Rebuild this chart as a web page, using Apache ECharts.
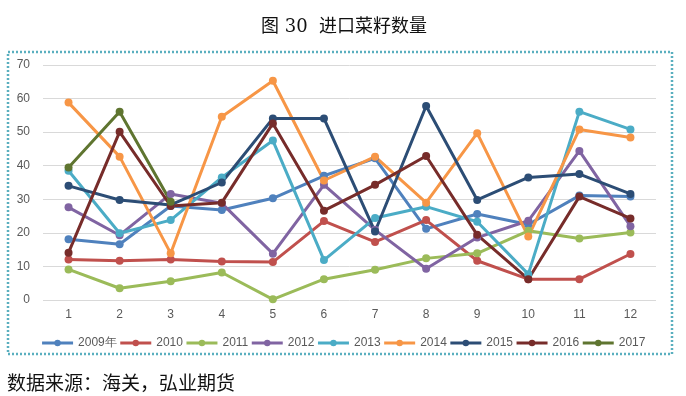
<!DOCTYPE html>
<html>
<head>
<meta charset="utf-8">
<script src="https://cdn.jsdelivr.net/npm/echarts@6/dist/echarts.min.js"></script>
<style>
html,body{margin:0;padding:0;background:#fff;}
#chart{width:686px;height:396px;}
</style>
</head>
<body>
<div id="chart"></div>
<script>
const months = ['1','2','3','4','5','6','7','8','9','10','11','12'];
const seriesNames = ['2009年','2010','2011','2012','2013','2014','2015','2016','2017'];
const colors = ['#4F81BD','#C0504D','#9BBB59','#8064A2','#4BACC6','#F79646','#2C4D75','#772C2A','#5F7530'];
const s2009 = [18.1,16.6,28.0,26.8,30.3,37.0,42.2,21.2,25.6,22.5,31.1,30.8];
const s2010 = [12.1,11.7,12.1,11.5,11.3,23.5,17.3,23.8,11.7,6.2,6.2,13.7];
const s2011 = [9.1,3.5,5.6,8.2,0.2,6.2,9.0,12.4,13.9,20.6,18.3,20.1];
const s2012 = [27.6,19.3,31.6,28.8,13.8,34.3,20.9,9.3,18.6,23.6,44.4,22.0];
const s2013 = [38.5,19.9,23.8,36.5,47.5,11.9,24.4,27.8,23.3,7.7,56.1,50.8];
const s2014 = [58.8,42.7,13.9,54.6,65.3,35.6,42.7,29.0,49.7,18.9,50.8,48.4];
const s2015 = [34.0,29.8,28.3,35.0,54.1,54.1,20.4,57.8,29.8,36.5,37.5,31.6];
const s2016 = [14.1,50.1,28.0,29.0,52.6,26.6,34.3,42.9,19.4,6.2,30.8,24.3];
const s2017 = [39.5,56.1,29.3];
const allData = [s2009,s2010,s2011,s2012,s2013,s2014,s2015,s2016,s2017];

const chart = echarts.init(document.getElementById('chart'));
chart.setOption({
  animation:false,
  backgroundColor:'#fff',
  color: colors,
  title:{
    text:'图 30  进口菜籽数量',
    left:339, top:13, textAlign:'center',
    textStyle:{fontFamily:'"DejaVu Serif","Noto Sans CJK SC",serif',fontSize:18,fontWeight:'normal',color:'#111'}
  },
  graphic:[
    {type:'rect',shape:{x:8,y:52,width:664,height:302},
     style:{fill:'none',stroke:'#5AAFBF',lineWidth:2.5,lineDash:[2,2]},silent:true},
    {type:'text',left:7,top:373,
     style:{text:'数据来源：海关，弘业期货',font:'19px "Noto Sans CJK SC"',fill:'#111'}}
  ],
  legend:{
    left:'center', top:332,
    itemWidth:31, itemHeight:8, itemGap:2,
    lineStyle:{width:3},
    textStyle:{fontFamily:'"Liberation Sans",sans-serif',fontSize:12,color:'#595959'},
    data: seriesNames
  },
  grid:{left:43,right:30,top:65,bottom:96},
  xAxis:{
    type:'category', data: months, boundaryGap:true,
    axisLine:{show:false}, axisTick:{show:false},
    axisLabel:{color:'#595959',fontSize:12,margin:9,fontFamily:'"Liberation Sans",sans-serif'}
  },
  yAxis:{
    type:'value', min:0, max:70, interval:10,
    axisLine:{show:false}, axisTick:{show:false},
    axisLabel:{color:'#595959',fontSize:12,margin:13,fontFamily:'"Liberation Sans",sans-serif'},
    splitLine:{lineStyle:{color:'#D9D9D9',width:1}}
  },
  series: seriesNames.map((n,i)=>({
    name:n, type:'line', data: allData[i],
    symbol:'circle', symbolSize:8,
    lineStyle:{width:3, color:colors[i]},
    itemStyle:{color:colors[i]}
  }))
});
</script>
</body>
</html>
